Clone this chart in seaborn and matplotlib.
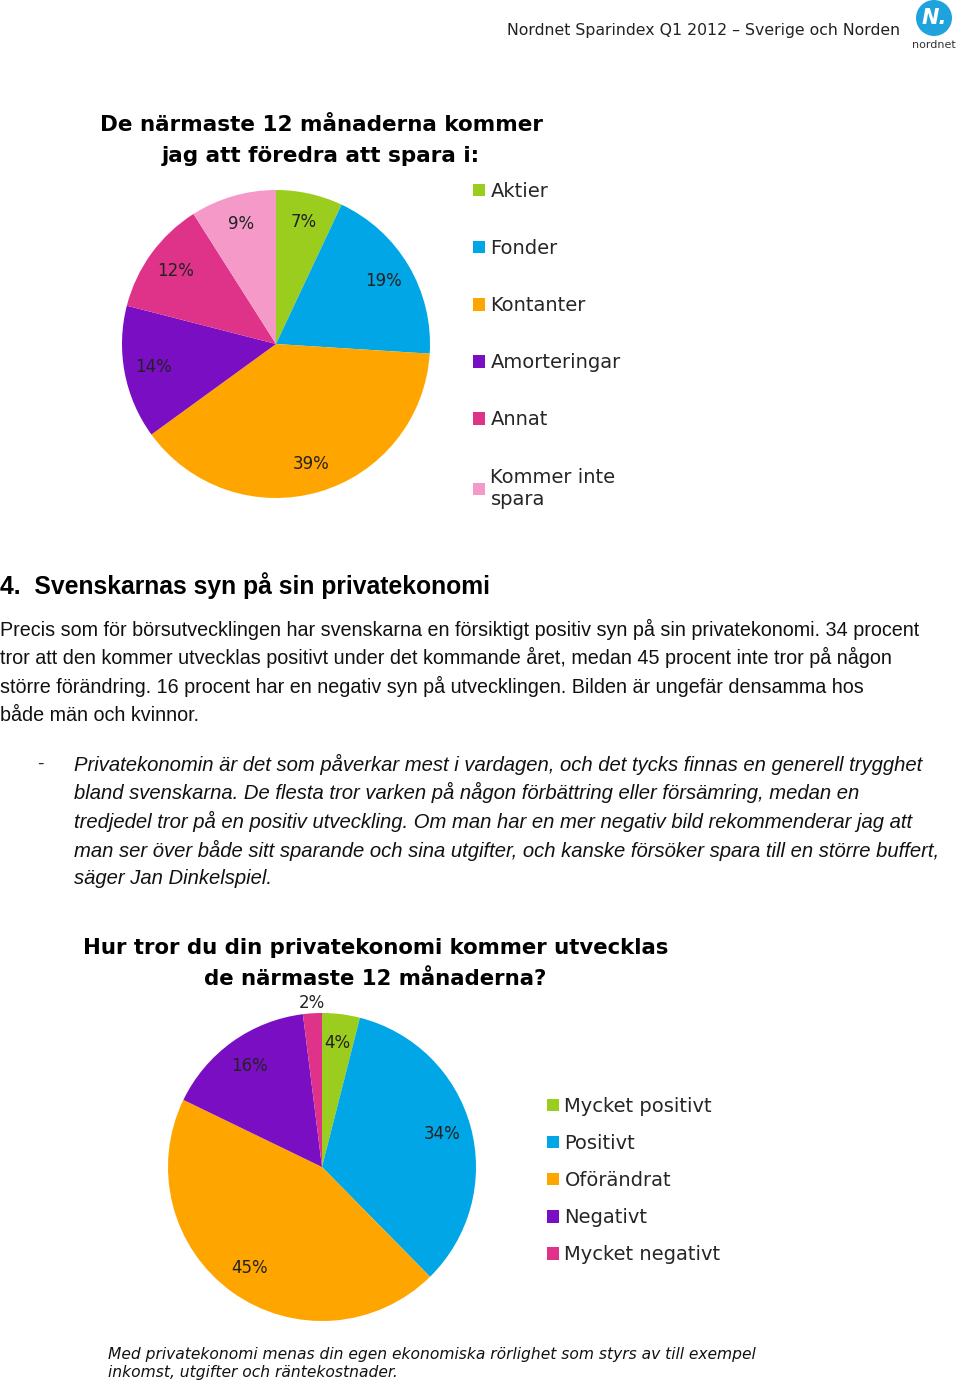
import matplotlib.pyplot as plt
import matplotlib.patches as mpatches
import numpy as np
import seaborn as sns

# Pie 1 : "De närmaste 12 månaderna kommer jag att föredra att spara i:"
spara_labels = ['Aktier', 'Fonder', 'Kontanter', 'Amorteringar', 'Annat', 'Kommer inte\nspara']
spara_values = [7, 19, 39, 14, 12, 9]

# Pie 2 : "Hur tror du din privatekonomi kommer utvecklas ..."
syn_labels = ['Mycket positivt', 'Positivt', 'Oförändrat', 'Negativt', 'Mycket negativt']
syn_values = [4, 34, 45, 16, 2]

colors6 = ['#9ACD1E', '#00A6E6', '#FFA500', '#7A0EC2', '#DE3388', '#F59AC8']
colors5 = ['#9ACD1E', '#00A6E6', '#FFA500', '#7A0EC2', '#DE3388']

header = 'Nordnet Sparindex Q1 2012 – Sverige och Norden'
section = '4.  Svenskarnas syn på sin privatekonomi'
body_lines = [
    'Precis som för börsutvecklingen har svenskarna en försiktigt positiv syn på sin privatekonomi. 34 procent',
    'tror att den kommer utvecklas positivt under det kommande året, medan 45 procent inte tror på någon',
    'större förändring. 16 procent har en negativ syn på utvecklingen. Bilden är ungefär densamma hos',
    'både män och kvinnor.',
]
quote_lines = [
    'Privatekonomin är det som påverkar mest i vardagen, och det tycks finnas en generell trygghet',
    'bland svenskarna. De flesta tror varken på någon förbättring eller försämring, medan en',
    'tredjedel tror på en positiv utveckling. Om man har en mer negativ bild rekommenderar jag att',
    'man ser över både sitt sparande och sina utgifter, och kanske försöker spara till en större buffert,',
    'säger Jan Dinkelspiel.',
]
foot_lines = [
    'Med privatekonomi menas din egen ekonomiska rörlighet som styrs av till exempel',
    'inkomst, utgifter och räntekostnader.',
]

sns.set_theme(style='white')
plt.rcParams['font.family'] = ['DejaVu Sans']
narrow = ['Liberation Sans', 'DejaVu Sans']

W, H = 960, 1385
fig = plt.figure(figsize=(W / 100, H / 100), dpi=100)
fig.patch.set_facecolor('white')


def fx(x):
    return x / W


def fy(y):
    return 1 - y / H


def pie_axes(cx, cy, r, pad=1.1):
    s = r * pad
    ax = fig.add_axes([fx(cx - s), fy(cy + s), 2 * s / W, 2 * s / H])
    return ax, pad


def draw_pie(ax, pad, values, colors):
    total = sum(values)
    wedges, texts, autotexts = ax.pie(
        values, colors=colors, startangle=90, counterclock=False,
        autopct=lambda p: '%d%%' % round(p * total / 100.0), pctdistance=0.81,
        wedgeprops=dict(linewidth=0), textprops=dict(fontsize=12, color='#222222'))
    ax.set_xlim(-pad, pad)
    ax.set_ylim(-pad, pad)
    ax.set_aspect('equal')
    ax.axis('off')
    return wedges, autotexts


# header + logo
fig.text(fx(900), fy(30), header, ha='right', va='center', fontsize=11.3, color='#222222')
lax = fig.add_axes([fx(916), fy(36), 36 / W, 36 / H])
lax.add_patch(mpatches.Circle((0, 0), 1, facecolor='#1FA3DD', edgecolor='none'))
lax.text(0, 0, 'N.', ha='center', va='center', fontsize=15, fontweight='bold',
         style='italic', color='white')
lax.set_xlim(-1, 1)
lax.set_ylim(-1, 1)
lax.set_aspect('equal')
lax.axis('off')
fig.text(fx(934), fy(45), 'nordnet', ha='center', va='center', fontsize=8, color='#333333')

# ---- pie 1
fig.text(fx(322), fy(125), 'De närmaste 12 månaderna kommer', ha='center', va='center',
         fontsize=15.5, fontweight='bold', color='black')
fig.text(fx(321), fy(156), 'jag att föredra att spara i:', ha='center', va='center',
         fontsize=15.5, fontweight='bold', color='black')
ax1, pad1 = pie_axes(276, 344, 154)
w1, t1 = draw_pie(ax1, pad1, spara_values, colors6)
fig.legend(w1, spara_labels, loc='upper left', bbox_to_anchor=(fx(473), fy(182)),
           bbox_transform=fig.transFigure, frameon=False, fontsize=14,
           handlelength=0.6, handleheight=0.6, handletextpad=0.3,
           labelspacing=1.96, borderpad=0, borderaxespad=0)

# ---- text section
fig.text(fx(0), fy(586), section, ha='left', va='center', fontsize=17.8, fontweight='bold',
         family=narrow, color='black')
for i, line in enumerate(body_lines):
    fig.text(fx(0), fy(629 + i * 28.7), line, ha='left', va='center', fontsize=14.2,
             family=narrow, color='#111111')
fig.text(fx(37), fy(764), '-', ha='left', va='center', fontsize=14, family=narrow)
for i, line in enumerate(quote_lines):
    fig.text(fx(74), fy(764 + i * 28.7), line, ha='left', va='center', fontsize=14.6,
             family=narrow, style='italic', color='#111111')

# ---- pie 2
fig.text(fx(376), fy(948), 'Hur tror du din privatekonomi kommer utvecklas', ha='center',
         va='center', fontsize=15.3, fontweight='bold', color='black')
fig.text(fx(375), fy(979), 'de närmaste 12 månaderna?', ha='center', va='center',
         fontsize=15.3, fontweight='bold', color='black')
ax2, pad2 = pie_axes(322, 1167, 154)
w2, t2 = draw_pie(ax2, pad2, syn_values, colors5)
# smallest slice gets its label outside the pie
last = w2[-1]
ang = np.deg2rad((last.theta1 + last.theta2) / 2)
t2[-1].set_position((1.07 * np.cos(ang), 1.07 * np.sin(ang)))
fig.legend(w2, syn_labels, loc='upper left', bbox_to_anchor=(fx(547), fy(1097)),
           bbox_transform=fig.transFigure, frameon=False, fontsize=14,
           handlelength=0.6, handleheight=0.6, handletextpad=0.3,
           labelspacing=0.93, borderpad=0, borderaxespad=0)

for i, line in enumerate(foot_lines):
    fig.text(fx(108), fy(1354 + i * 19), line, ha='left', va='center', fontsize=11.2,
             style='italic', color='#111111')

fig.savefig('out.png', dpi=100, facecolor='white')
